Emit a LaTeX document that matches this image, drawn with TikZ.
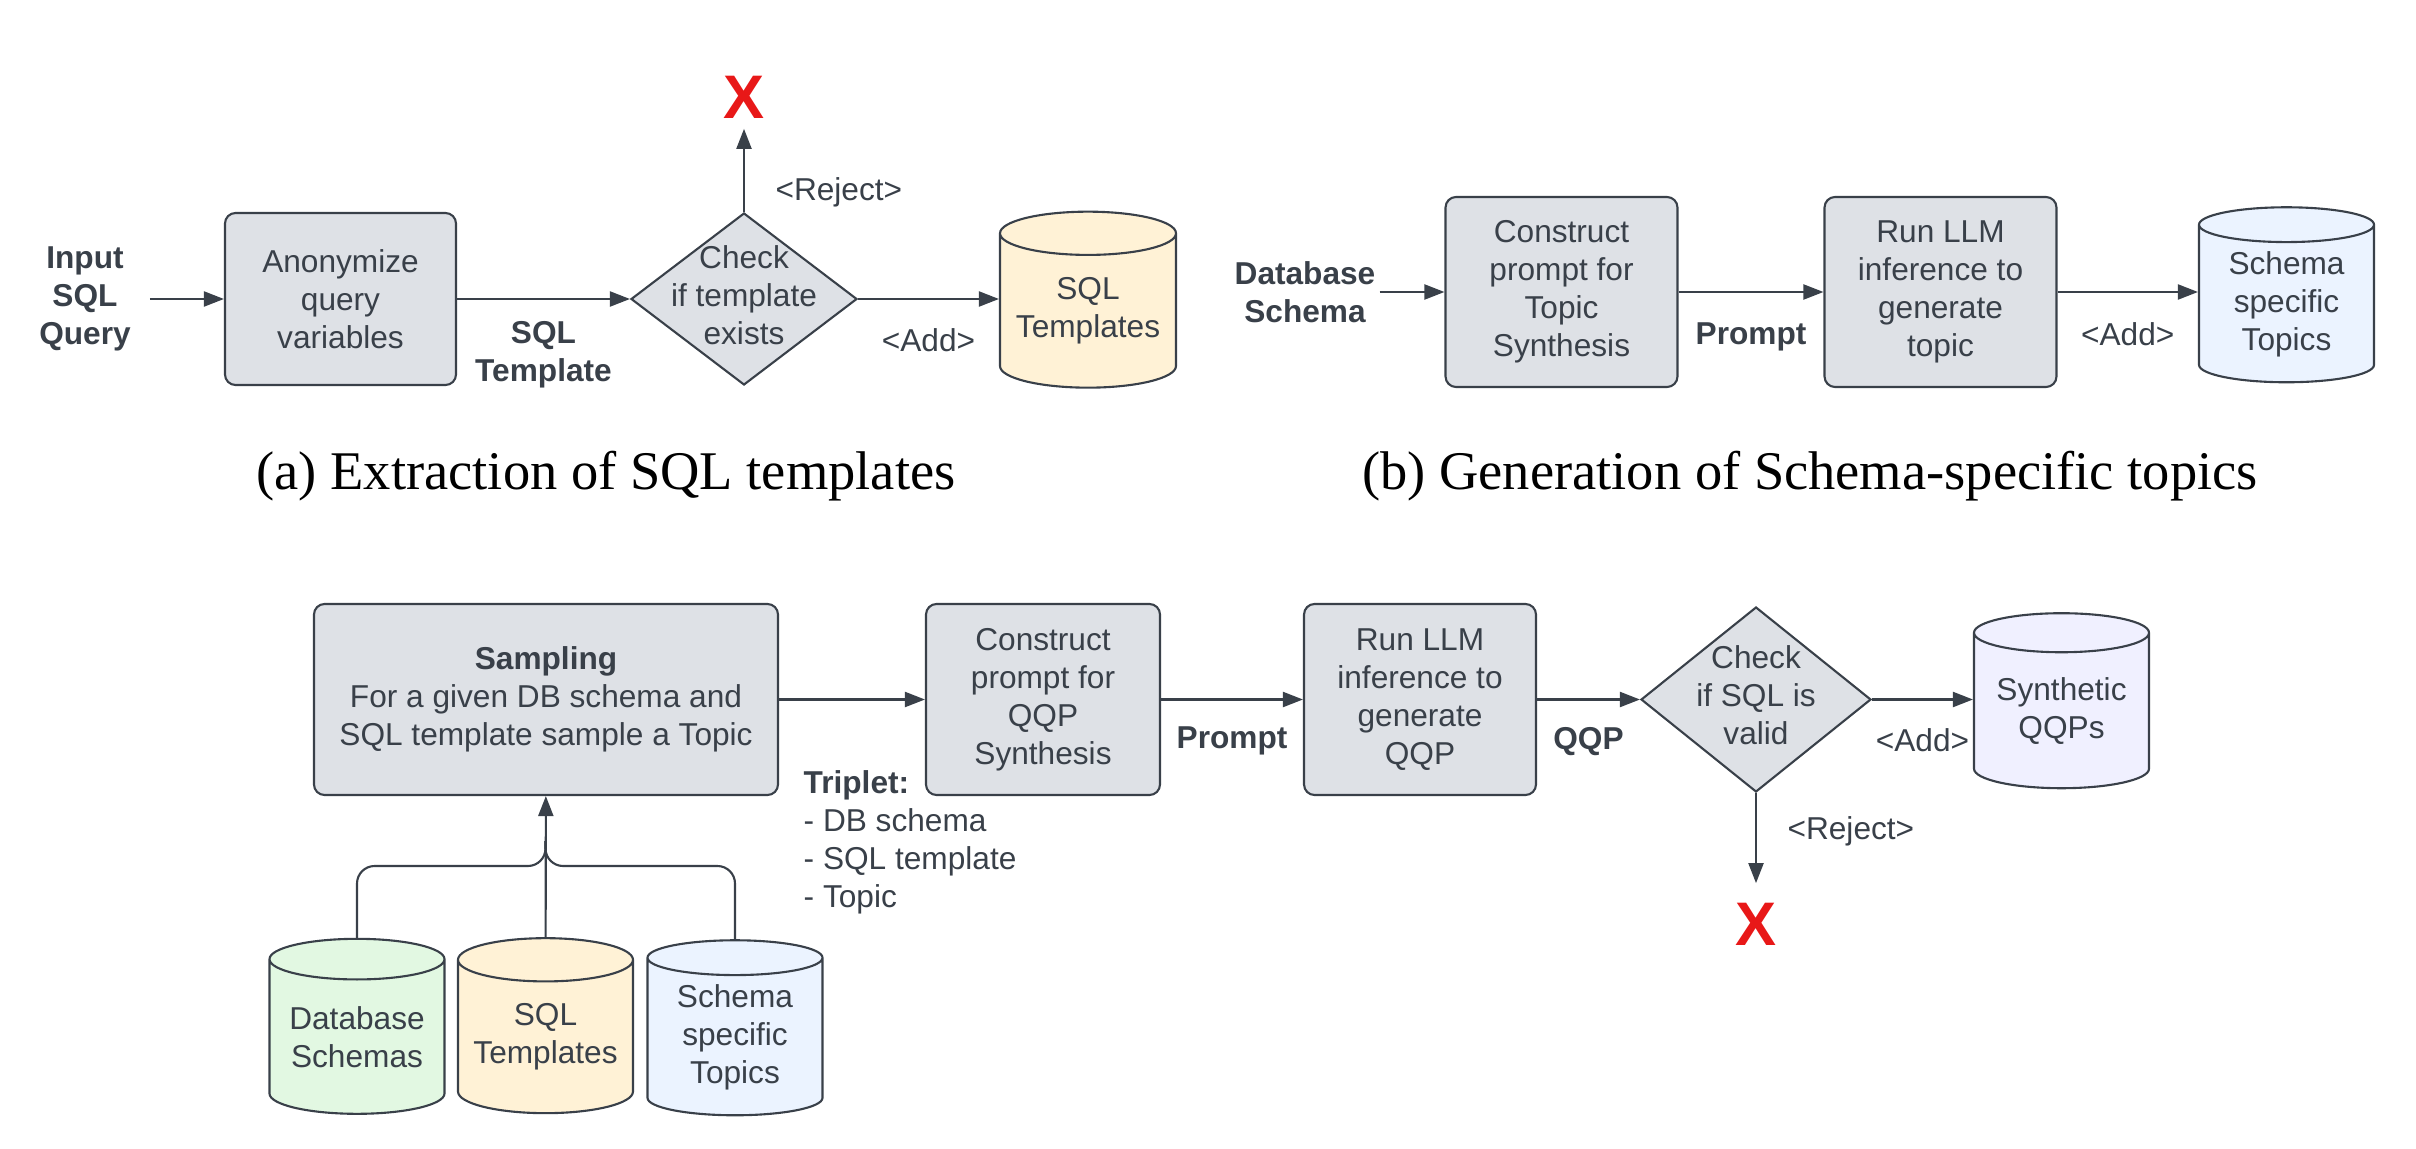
\documentclass[tikz,border=0pt]{standalone}
\usepackage{fontspec}
\setmainfont{Liberation Serif}
\setsansfont{Liberation Sans}
\usetikzlibrary{arrows.meta,positioning,shapes.geometric}
\definecolor{ink}{HTML}{394049}
\definecolor{boxgray}{HTML}{DEE1E6}
\definecolor{dbyellow}{HTML}{FFF2D6}
\definecolor{dbgreen}{HTML}{E2F8E2}
\definecolor{dbblue}{HTML}{EBF3FF}
\definecolor{dbviolet}{HTML}{F0F0FF}
\definecolor{xred}{HTML}{E81818}
\begin{document}
\begin{tikzpicture}[
  font=\sffamily\fontsize{9}{10.8}\selectfont,
  every node/.style={text=ink},
  box/.style={draw=ink, fill=boxgray, line width=0.6pt, rounded corners=3pt, align=center, minimum width=2.32cm, minimum height=1.9cm},
  decision/.style={diamond, draw=ink, fill=boxgray, line width=0.6pt, inner sep=0pt},
  store/.style={cylinder, shape border rotate=90, aspect=0.3, draw=ink, line width=0.6pt, minimum width=1.75cm, minimum height=1.75cm, inner sep=0pt, align=center},
  flow/.style={draw=ink, line width=0.6pt, -{Triangle[length=0.2cm,width=0.15cm]}},
  tag/.style={font=\sffamily\bfseries\fontsize{9}{10.8}\selectfont, align=center, inner sep=1pt},
  note/.style={align=center, inner sep=1pt},
  reject/.style={text=xred, font=\sffamily\bfseries\fontsize{17.5}{20}\selectfont, inner sep=0pt},
  subcap/.style={font=\rmfamily\fontsize{15.5}{18}\selectfont, text=black}
]
\useasboundingbox (0,0) rectangle (24.16,11.48);

% (a) extraction of SQL templates
\node[tag] (inq) at (0.85,8.49) {Input\\SQL\\Query};
\node[box, minimum width=2.31cm, minimum height=1.72cm] (anon) at (3.405,8.49) {Anonymize\\query\\variables};
\node[decision, minimum width=2.26cm, minimum height=1.72cm, label={[align=center, yshift=0.04cm]center:Check\\if template\\exists}] (chk) at (7.44,8.49) {};
\node[store, fill=dbyellow, minimum width=1.76cm, minimum height=1.76cm] (tplA) at (10.88,8.37) {SQL\\Templates};
\node[reject] (xA) at (7.44,10.51) {X};
\draw[flow, shorten <=0.15cm] (inq) -- (anon);
\draw[flow] (anon) -- node[tag, below=5pt] {SQL\\Template} (chk);
\draw[flow] (chk) -- (chk -| tplA.west) node[note, midway, below=7pt] {<Add>};
\draw[flow, shorten >=0.1cm] (chk) -- node[note, pos=0.21, right=0.27cm] {<Reject>} (xA);
\node[subcap] (capA) at (6.06,6.72) {(a) Extraction of SQL templates};

% (b) generation of schema-specific topics
\node[tag] (dbin) at (13.05,8.56) {Database\\Schema};
\node[box] (conT) at (15.615,8.56) {Construct\\prompt for\\Topic\\Synthesis};
\node[box] (runT) at (19.405,8.56) {Run LLM\\inference to\\generate\\topic};
\node[store, fill=dbblue] (topA) at (22.865,8.44) {Schema\\specific\\Topics};
\draw[flow] (dbin) -- (conT);
\draw[flow] (conT) -- node[tag, below=7.5pt] {Prompt} (runT);
\draw[flow] (runT) -- (runT -| topA.west) node[note, midway, below=7.5pt] {<Add>};
\node[subcap] (capB) at (18.10,6.72) {(b) Generation of Schema-specific topics};

% (c) synthesis of QQPs
\node[box, minimum width=4.64cm, minimum height=1.91cm] (samp) at (5.46,4.485) {\textbf{Sampling}\\For a given DB schema and\\SQL template sample a Topic};
\node[box, minimum width=2.34cm, minimum height=1.91cm] (conQ) at (10.43,4.485) {Construct\\prompt for\\QQP\\Synthesis};
\node[box, minimum height=1.91cm] (runQ) at (14.20,4.485) {Run LLM\\inference to\\generate\\QQP};
\node[decision, minimum width=2.30cm, minimum height=1.85cm, label={[align=center, yshift=0.04cm]center:Check\\if SQL is\\valid}] (valid) at (17.56,4.485) {};
\node[store, fill=dbviolet] (qqps) at (20.615,4.37) {Synthetic\\QQPs};
\node[reject] (xC) at (17.56,2.24) {X};
\node[note, align=left, anchor=west, inner sep=0pt] (trip) at (8.03,3.06) {\textbf{Triplet:}\\- DB schema\\- SQL template\\- Topic};
\node[store, fill=dbgreen] (dbs) at (3.57,1.11) {Database\\Schemas};
\node[store, fill=dbyellow] (tplB) at (5.455,1.11) {SQL\\Templates};
\node[store, fill=dbblue] (topB) at (7.35,1.11) {Schema\\specific\\Topics};
\coordinate (join) at (5.455,2.82);
\draw[flow] (samp) -- (conQ);
\draw[flow] (conQ) -- node[tag, below=6.5pt] {Prompt} (runQ);
\draw[flow] (runQ) -- node[tag, below=6.5pt] {QQP} (valid);
\draw[flow] (valid) -- (valid -| qqps.west) node[note, midway, below=7pt] {<Add>};
\draw[flow, shorten >=0.19cm] (valid) -- node[note, pos=0.35, right=0.27cm] {<Reject>} (xC);
% the three stores feed the sampler
\draw[flow] (tplB) -- (samp);
\draw[draw=ink, line width=0.6pt, rounded corners=5pt] (dbs.north) |- (join) -- ++(0,0.25);
\draw[draw=ink, line width=0.6pt, rounded corners=5pt] (topB.north) |- (join) -- ++(0,0.25);
\end{tikzpicture}
\end{document}
